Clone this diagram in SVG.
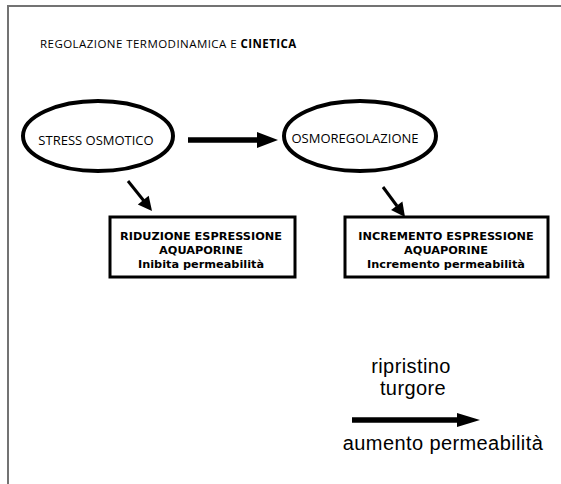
<svg xmlns="http://www.w3.org/2000/svg" width="561" height="484" viewBox="0 0 561 484">
<style>
.frame{fill:none;stroke:#737373;stroke-width:2}
.ell{fill:#fff;stroke:#000;stroke-width:4}
.box{fill:#fff;stroke:#000;stroke-width:3}
.t1{font-family:"Open Sans",sans-serif;font-size:11.5px;letter-spacing:0.45px;fill:#000}
.t2{font-family:"Open Sans",sans-serif;font-size:13px;fill:#000}
.bt{font-family:"DejaVu Sans",Verdana,sans-serif;font-size:11.3px;font-weight:bold;fill:#000;text-anchor:middle}
.ht{font-family:"Liberation Sans",Arial,sans-serif;font-size:20px;fill:#000;text-anchor:middle;letter-spacing:0.4px}
.arr{stroke:#000;fill:none}
.head{fill:#000}
</style>
<rect width="561" height="484" fill="#fff"/>
<path class="frame" d="M8,484 L8,6 L561,6"/>
<text class="t1" x="40" y="48">REGOLAZIONE TERMODINAMICA E <tspan font-weight="bold">CINETICA</tspan></text>
<g id="stress">
<ellipse class="ell" cx="98" cy="136" rx="75" ry="35"/>
<text class="t2" x="96" y="145" text-anchor="middle">STRESS OSMOTICO</text>
</g>
<g id="osmo">
<ellipse class="ell" cx="360" cy="136" rx="76" ry="35"/>
<text class="t2" x="355" y="143" text-anchor="middle">OSMOREGOLAZIONE</text>
</g>
<g id="riduzione">
<rect class="box" x="110" y="217" width="185" height="60"/>
<text class="bt" x="201" y="240">RIDUZIONE ESPRESSIONE</text>
<text class="bt" x="201" y="254">AQUAPORINE</text>
<text class="bt" x="201" y="268">Inibita permeabilità</text>
</g>
<g id="incremento">
<rect class="box" x="345" y="217" width="203" height="60"/>
<text class="bt" x="446" y="240">INCREMENTO ESPRESSIONE</text>
<text class="bt" x="446" y="254">AQUAPORINE</text>
<text class="bt" x="446" y="268">Incremento permeabilità</text>
</g>
<g id="label-bottom">
<text class="ht" x="411" y="373">ripristino</text>
<text class="ht" x="413" y="395">turgore</text>
<text class="ht" x="443" y="450">aumento permeabilità</text>
</g>
<g id="connectors">
<line class="arr" x1="188" y1="140" x2="259" y2="140" stroke-width="5.5"/>
<polygon class="head" points="257,132 278,140 257,148"/>
<line class="arr" x1="128" y1="181" x2="144" y2="201" stroke-width="3"/>
<polygon class="head" points="137.8,204.4 152,211 148.7,195.7"/>
<line class="arr" x1="383" y1="187" x2="397" y2="206" stroke-width="3"/>
<polygon class="head" points="391.1,209.9 405,217 402.4,201.6"/>
<line class="arr" x1="352" y1="420" x2="460" y2="420" stroke-width="5.5"/>
<polygon class="head" points="457,413 480,420 457,427"/>
</g>
</svg>
